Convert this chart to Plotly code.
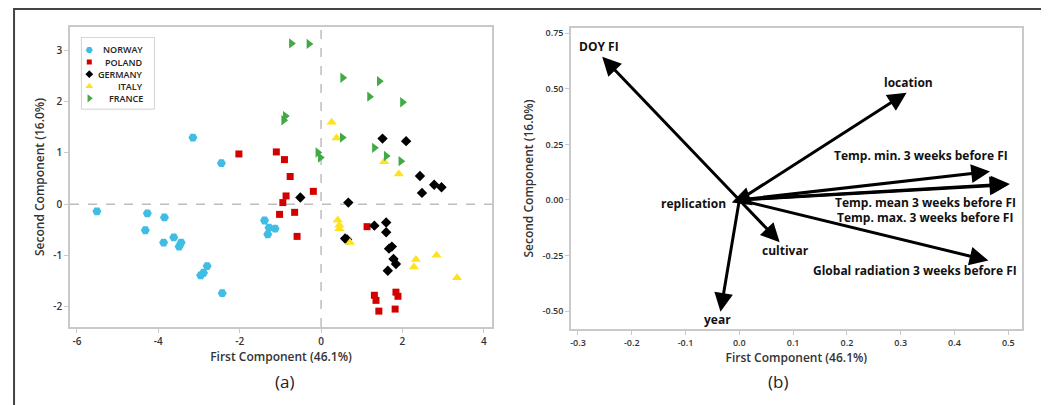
import plotly.graph_objects as go

# ---- left panel: PCA scores per country ----
countries = ["NORWAY", "POLAND", "GERMANY", "ITALY", "FRANCE"]

norway_x = [-5.51, -3.15, -2.45, -4.27, -4.32, -3.85, -3.87, -3.62, -3.44, -3.49, -2.80, -2.89, -2.96,
            -2.43, -1.39, -1.28, -1.13, -1.31]
norway_y = [-0.14, 1.30, 0.80, -0.18, -0.51, -0.26, -0.75, -0.65, -0.75, -0.83, -1.21, -1.34, -1.39,
            -1.74, -0.32, -0.46, -0.48, -0.59]

poland_x = [-2.02, -1.10, -0.90, -0.76, -0.86, -0.94, -1.02, -0.65, -0.19, -0.59, 1.13, 1.31, 1.35,
            1.42, 1.84, 1.89, 1.82]
poland_y = [0.98, 1.02, 0.87, 0.54, 0.16, 0.03, -0.20, -0.16, 0.25, -0.63, -0.44, -1.78, -1.88,
            -2.09, -1.72, -1.80, -2.05]

germany_x = [-0.51, 0.67, 1.51, 2.09, 2.43, 2.48, 2.78, 2.96, 0.59, 0.64, 1.31, 1.60, 1.60, 1.74,
             1.67, 1.78, 1.84, 1.64]
germany_y = [0.13, 0.03, 1.28, 1.23, 0.55, 0.22, 0.38, 0.33, -0.67, -0.69, -0.42, -0.36, -0.55, -0.83,
             -0.87, -1.07, -1.17, -1.30]

italy_x = [0.26, 0.38, 1.55, 1.91, 0.41, 0.45, 0.45, 0.71, 2.33, 2.28, 2.84, 3.34]
italy_y = [1.60, 1.29, 0.83, 0.59, -0.31, -0.41, -0.48, -0.75, -1.08, -1.23, -1.00, -1.44]

france_x = [-0.73, -0.30, 0.53, 1.43, 1.19, 2.00, -0.88, -0.92, 0.52, -0.08, -0.02, 1.31, 1.60, 1.96]
france_y = [3.14, 3.13, 2.47, 2.40, 2.10, 1.99, 1.72, 1.64, 1.30, 1.01, 0.91, 1.10, 0.94, 0.84]

left_xticks = [-6, -4, -2, 0, 2, 4]
left_xtext = ["-6", "-4", "-2", "0", "2", "4"]
left_yticks = [-2, -1, 0, 1, 2, 3]
left_ytext = ["-2", "-1", "0", "1", "2", "3"]

# ---- right panel: loading vectors ----
var_names = ["DOY FI", "location", "Temp. min. 3 weeks before FI", "Temp. mean 3 weeks before FI",
             "Temp. max. 3 weeks before FI", "Global radiation 3 weeks before FI", "cultivar", "year",
             "replication"]
load_pc1 = [-0.255, 0.311, 0.466, 0.503, 0.500, 0.463, 0.075, -0.035, -0.014]
load_pc2 = [0.645, 0.483, 0.128, 0.072, 0.068, -0.273, -0.190, -0.503, -0.012]
label_x = [-0.261, 0.314, 0.337, 0.346, 0.346, 0.326, 0.085, -0.041, -0.085]
label_y = [0.690, 0.528, 0.200, -0.012, -0.080, -0.318, -0.228, -0.540, -0.015]

right_xticks = [-0.3, -0.2, -0.1, 0.0, 0.1, 0.2, 0.3, 0.4, 0.5]
right_xtext = ["-0.3", "-0.2", "-0.1", "0.0", "0.1", "0.2", "0.3", "0.4", "0.5"]
right_yticks = [-0.5, -0.25, 0.0, 0.25, 0.5, 0.75]
right_ytext = ["-0.50", "-0.25", "0.00", "0.25", "0.50", "0.75"]

FONT = "Open Sans"

fig = go.Figure()

styles = [
    ("#3fbde2", "hexagon2", 9),
    ("#d40000", "square", 7),
    ("#000000", "diamond", 8),
    ("#ffe21f", "triangle-up", 9),
    ("#43a947", "triangle-right", 9),
]
series = [(norway_x, norway_y), (poland_x, poland_y), (germany_x, germany_y), (italy_x, italy_y),
          (france_x, france_y)]
for name, (xs, ys), (color, symbol, size) in zip(countries, series, styles):
    fig.add_trace(
        go.Scatter(
            x=xs,
            y=ys,
            mode="markers",
            name=name,
            marker=dict(color=color, symbol=symbol, size=size, line=dict(width=0)),
            showlegend=False,
            xaxis="x",
            yaxis="y",
        )
    )

# hand made legend, drawn on its own small axes so the rows sit close together
legend_rows = list(range(len(countries)))
for row, (color, symbol, size) in zip(legend_rows, styles):
    fig.add_trace(
        go.Scatter(
            x=[0.105],
            y=[row],
            mode="markers",
            marker=dict(color=color, symbol=symbol, size=size - 2, line=dict(width=0)),
            showlegend=False,
            hoverinfo="skip",
            xaxis="x3",
            yaxis="y3",
        )
    )

# invisible trace so the second axes pair exists
fig.add_trace(go.Scatter(x=load_pc1, y=load_pc2, mode="markers", marker=dict(opacity=0),
                         showlegend=False, hoverinfo="skip", xaxis="x2", yaxis="y2"))

annotations = []
for name, px_, py_, lx, ly in zip(var_names, load_pc1, load_pc2, label_x, label_y):
    annotations.append(dict(
        x=px_, y=py_, ax=0, ay=0, xref="x2", yref="y2", axref="x2", ayref="y2",
        text="", showarrow=True, arrowhead=2, arrowsize=1.25, arrowwidth=3, arrowcolor="#000000",
    ))
    annotations.append(dict(
        x=lx, y=ly, xref="x2", yref="y2", text=f"<b>{name}</b>", showarrow=False,
        font=dict(family=FONT, size=12, color="#111111"),
    ))

for row, name in zip(legend_rows, countries):
    annotations.append(dict(
        x=0.875, y=row, xref="x3", yref="y3", text=name, showarrow=False, xanchor="right",
        font=dict(family=FONT, size=9, color="#222222", weight=600),
    ))

annotations.append(dict(x=0.2546, y=0.0252, xref="paper", yref="paper", text="(a)", showarrow=False,
                        font=dict(family=FONT, size=17, color="#222222")))
annotations.append(dict(x=0.7512, y=0.0252, xref="paper", yref="paper", text="(b)", showarrow=False,
                        font=dict(family=FONT, size=17, color="#222222")))

axis_common = dict(
    showgrid=False, zeroline=False, showline=True, mirror=True, linecolor="#c9c9c9", linewidth=1.5,
    ticks="outside", ticklen=4, tickcolor="#c9c9c9", automargin=False,
    tickfont=dict(family=FONT, size=10, color="#333333", weight=600),
)
small_ticks = dict(family=FONT, size=9, color="#333333", weight=600)
title_font = dict(family=FONT, size=12, color="#333333", weight=600)
hidden_axis = dict(visible=False, showgrid=False, zeroline=False, fixedrange=True)

# the page body adds 8px around the plot, so the figure is 8px smaller than the window
fig.update_layout(
    width=1041,
    height=397,
    margin=dict(l=0, r=0, t=0, b=0),
    paper_bgcolor="white",
    plot_bgcolor="white",
    font=dict(family=FONT),
    showlegend=False,
    xaxis=dict(axis_common, domain=[0.0596, 0.4649], range=[-6.17, 4.2], tickvals=left_xticks,
               ticktext=left_xtext, title=dict(text="First Component (46.1%)", font=title_font, standoff=5)),
    yaxis=dict(axis_common, domain=[0.1965, 0.9521], range=[-2.4, 3.46], tickvals=left_yticks,
               ticktext=left_ytext, title=dict(text="Second Component (16.0%)", font=title_font, standoff=6)),
    xaxis2=dict(axis_common, domain=[0.5408, 0.9738], range=[-0.313, 0.525], anchor="y2",
                tickvals=right_xticks, ticktext=right_xtext, tickfont=small_ticks,
                title=dict(text="First Component (46.1%)", font=title_font, standoff=5)),
    yaxis2=dict(axis_common, domain=[0.1914, 0.9496], range=[-0.581, 0.774], anchor="x2",
                tickvals=right_yticks, ticktext=right_ytext, tickfont=small_ticks,
                title=dict(text="Second Component (16.0%)", font=title_font, standoff=6)),
    xaxis3=dict(hidden_axis, domain=[0.0708, 0.1402], range=[0, 1], anchor="y3"),
    yaxis3=dict(hidden_axis, domain=[0.7463, 0.9252], range=[4.858, -1.017], anchor="x3"),
    annotations=annotations,
    shapes=[
        dict(type="line", xref="x", yref="y domain", x0=0, x1=0, y0=0, y1=1,
             line=dict(color="#bdbdbd", width=1.5, dash="dash"), layer="below"),
        dict(type="line", xref="x domain", yref="y", x0=0, x1=1, y0=0, y1=0,
             line=dict(color="#bdbdbd", width=1.5, dash="dash"), layer="below"),
        dict(type="rect", xref="x3 domain", yref="y3 domain", x0=0, x1=1, y0=0, y1=1,
             line=dict(color="#c4c4c4", width=1.5), fillcolor="white", layer="below"),
        dict(type="rect", xref="paper", yref="paper", x0=0.0058, x1=0.9942, y0=-0.1, y1=0.9975,
             line=dict(color="#444444", width=2)),
    ],
)

fig.write_html("out.html")
